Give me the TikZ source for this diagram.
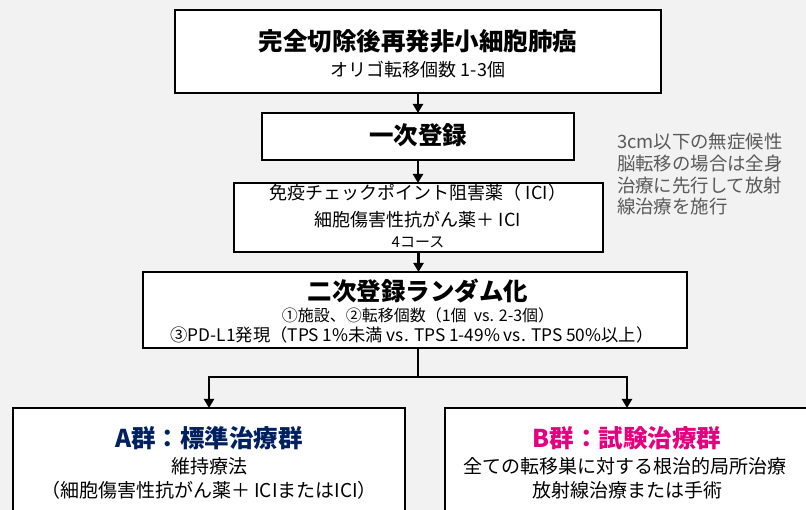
\documentclass[tikz,border=0pt]{standalone}
\usepackage{fontspec}
\setmainfont{Noto Sans CJK JP}
\usetikzlibrary{arrows.meta}
\definecolor{bgc}{HTML}{F2F2F2}
\definecolor{navyA}{HTML}{002060}
\definecolor{magB}{HTML}{E5007F}
\definecolor{notegray}{HTML}{595959}
\tikzset{
  box/.style={draw=black, line width=2pt, fill=white, inner sep=0pt, outer sep=0pt},
  arr/.style={line width=2.2pt, -{Triangle[width=10pt,length=9pt]}},
  plain/.style={line width=2.2pt},
  txt/.style={inner sep=0pt, outer sep=0pt, text=black},
  bigtitle/.style={txt, font=\bfseries\fontsize{24.5}{28}\selectfont},
  midtext/.style={txt, font=\fontsize{18}{22}\selectfont},
  lowtext/.style={txt, font=\fontsize{19}{22}\selectfont},
  smalltext/.style={txt, font=\fontsize{15}{18}\selectfont},
  subtext/.style={txt, font=\fontsize{16}{20}\selectfont},
  widetext/.style={txt, font=\fontsize{17.3}{20}\selectfont},
  notetext/.style={txt, text=notegray, align=left, font=\fontsize{18.4}{21.7}\selectfont}
}
\begin{document}
\begin{tikzpicture}[x=1pt,y=-1pt]
\useasboundingbox (0,0) rectangle (806,510);
\clip (0,0) rectangle (806,510);
\fill[bgc] (0,0) rectangle (806,510);

% boxes
\node[box, minimum width=486pt, minimum height=83pt] (b1) at (418,51.5) {};
\node[box, minimum width=312pt, minimum height=47pt] (b2) at (418,136.5) {};
\node[box, minimum width=369pt, minimum height=69pt] (b3) at (418.5,217.5) {};
\node[box, minimum width=544pt, minimum height=76pt] (b4) at (415,310) {};
\node[box, minimum width=392pt, minimum height=152pt] (bA) at (209,484) {};
\node[box, minimum width=364pt, minimum height=152pt] (bB) at (627,484) {};

% texts
\node[bigtitle] (t1a) at (418,41) {完全切除後再発非小細胞肺癌};
\node[midtext] (t1b) at (418,70) {オリゴ転移個数 1-3個};
\node[bigtitle] (t2) at (418,135) {一次登録};
\node[midtext] (t3a) at (418,193) {免疫チェックポイント阻害薬（ ICI）};
\node[midtext] (t3b) at (418,220) {細胞傷害性抗がん薬＋ ICI};
\node[smalltext] (t3c) at (418,242) {4コース};
\node[bigtitle] (t4a) at (418,291) {二次登録ランダム化};
\node[subtext] (t4b) at (418,315) {①施設、②転移個数（1個\ \ vs. 2-3個）};
\node[widetext] (t4c) at (412,335) {③PD-L1発現（TPS 1\%未満 vs. TPS 1-49\% vs. TPS 50\%以上）};
\node[bigtitle, text=navyA] (tAa) at (209,438) {A群：標準治療群};
\node[lowtext] (tAb) at (209,466) {維持療法};
\node[lowtext] (tAc) at (209,490) {（細胞傷害性抗がん薬＋ ICIまたはICI）};
\node[bigtitle, text=magB] (tBa) at (627,438) {B群：試験治療群};
\node[lowtext] (tBb) at (625,466) {全ての転移巣に対する根治的局所治療};
\node[lowtext] (tBc) at (627,490) {放射線治療または手術};
\node[notetext, anchor=west] (note) at (617,174.2) {3cm以下の無症候性\\脳転移の場合は全身\\治療に先行して放射\\線治療を施行};

% connectors
\draw[arr] (b1.south -| b2.north) -- (b2.north);
\draw[arr] (b2.south) -- (b2.south |- b3.north);
\draw[arr] (b3.south) -- (b3.south |- b4.north);
\coordinate (sp) at (418,377);
\draw[plain] (b4.south -| sp) -- (sp);
\draw[arr] (sp) -| (bA.north);
\draw[arr] (sp) -| (bB.north);
\end{tikzpicture}
\end{document}
